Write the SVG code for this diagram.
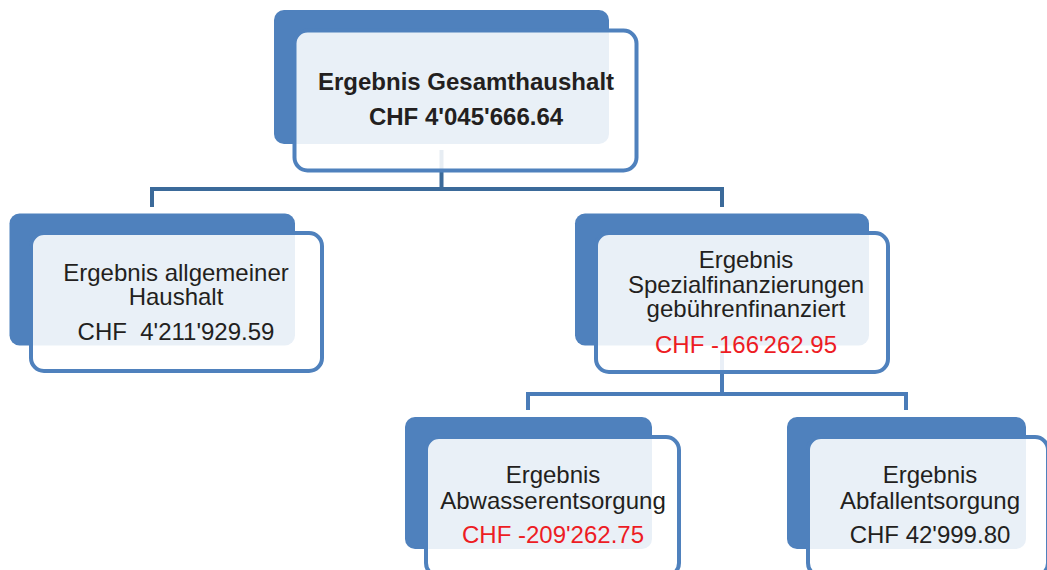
<svg xmlns="http://www.w3.org/2000/svg" width="1047" height="570" viewBox="0 0 1047 570">
<style>
.back{fill:#4f81bd}
.front{fill:#ffffff;fill-opacity:0.88;stroke:#4f81bd;stroke-width:4}
.t{font-family:"Liberation Sans",Arial,sans-serif;font-size:24px;fill:#231f20;text-anchor:middle}
.b{font-weight:bold;font-size:24px}
.red{fill:#ed1c24}
.c1{fill:none;stroke:#3b6a9a;stroke-width:4}
.c2{fill:none;stroke:#4a7cb8;stroke-width:4}
</style>
<rect width="1047" height="570" fill="#ffffff"/>
<g id="connectors">
<path class="c1" d="M441.5 150 V189 M152 207 V189 H722 V207"/>
<path class="c2" d="M722 350 V394 M528 410 V394 H906 V410"/>
</g>
<g id="node-gesamt">
<rect class="back" x="274" y="10" width="335" height="134" rx="10"/>
<rect class="front" x="294.5" y="30.5" width="342" height="140" rx="13"/>
<text class="t b" x="466" y="90">Ergebnis Gesamthaushalt</text>
<text class="t b" x="466" y="125">CHF 4'045'666.64</text>
</g>
<g id="node-allgemein">
<rect class="back" x="9.5" y="213.5" width="285.5" height="132" rx="10"/>
<rect class="front" x="31" y="233" width="291" height="138" rx="13"/>
<text class="t" x="176" y="281">Ergebnis allgemeiner</text>
<text class="t" x="176" y="305">Haushalt</text>
<text class="t" x="176" y="340" style="white-space:pre">CHF  4'211'929.59</text>
</g>
<g id="node-spezial">
<rect class="back" x="575" y="213.5" width="294" height="132" rx="10"/>
<rect class="front" x="596" y="233" width="292" height="139" rx="13"/>
<text class="t" x="746" y="268">Ergebnis</text>
<text class="t" x="746" y="293">Spezialfinanzierungen</text>
<text class="t" x="746" y="317">gebührenfinanziert</text>
<text class="t red" x="746" y="353">CHF -166'262.95</text>
</g>
<g id="node-abwasser">
<rect class="back" x="405" y="417" width="247" height="132" rx="10"/>
<rect class="front" x="426" y="437" width="253" height="139" rx="13"/>
<text class="t" x="553" y="483">Ergebnis</text>
<text class="t" x="553" y="509">Abwasserentsorgung</text>
<text class="t red" x="553" y="543">CHF -209'262.75</text>
</g>
<g id="node-abfall">
<rect class="back" x="787" y="417" width="239" height="132" rx="10"/>
<rect class="front" x="808" y="437" width="240" height="139" rx="13"/>
<text class="t" x="930" y="483">Ergebnis</text>
<text class="t" x="930" y="509">Abfallentsorgung</text>
<text class="t" x="930" y="543">CHF 42'999.80</text>
</g>
</svg>
